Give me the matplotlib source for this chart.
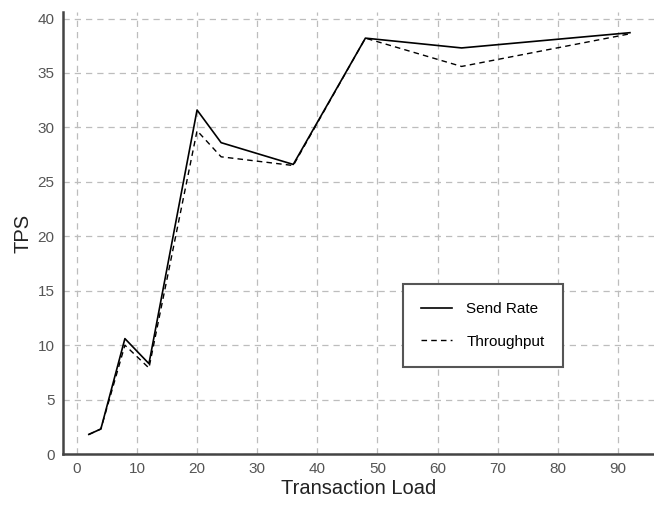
import matplotlib
matplotlib.use("Agg")
import matplotlib.pyplot as plt

load = [2, 4, 8, 12, 20, 24, 36, 48, 64, 92]
send_rate = [1.8, 2.3, 10.6, 8.3, 31.6, 28.6, 26.6, 38.2, 37.3, 38.7]
throughput = [1.8, 2.3, 10.0, 7.9, 29.7, 27.3, 26.5, 38.2, 35.6, 38.6]
xticks = [0, 10, 20, 30, 40, 50, 60, 70, 80, 90]
yticks = [0, 5, 10, 15, 20, 25, 30, 35, 40]

plt.rcParams['font.family'] = ['Liberation Sans', 'DejaVu Sans']

fig = plt.figure(figsize=(6.54, 5.11), dpi=100)
ax = fig.add_axes([0.0963, 0.1115, 0.9037, 0.865])

ax.plot(load, send_rate, color='black', lw=1.2, label='Send Rate')
ax.plot(load, throughput, color='black', lw=1.0, ls=(0, (4, 3)), label='Throughput')

ax.set_xlim(-2.3, 96)
ax.set_ylim(0, 40.6)
ax.set_xticks(xticks)
ax.set_yticks(yticks)
ax.grid(True, color='#bdbdbd', ls=(0, (5, 4)), lw=0.9)
ax.set_axisbelow(True)
ax.tick_params(length=0, labelsize=11, labelcolor='#555555', pad=6)
for s in ['top', 'right']:
    ax.spines[s].set_visible(False)
for s in ['left', 'bottom']:
    ax.spines[s].set_color('#444444')
    ax.spines[s].set_linewidth(1.8)

ax.set_xlabel('Transaction Load', fontsize=14.5, color='#222222', labelpad=2)
ax.set_ylabel('TPS', fontsize=14.5, color='#222222', labelpad=4)

leg = ax.legend(loc='upper left', bbox_to_anchor=(0.575, 0.385), fontsize=11,
                fancybox=False, framealpha=1, edgecolor='#555555',
                borderpad=1.2, labelspacing=1.2, handlelength=2.0, handletextpad=0.95,
                borderaxespad=0)
leg.get_frame().set_linewidth(1.5)

fig.savefig('out.png', dpi=100)
